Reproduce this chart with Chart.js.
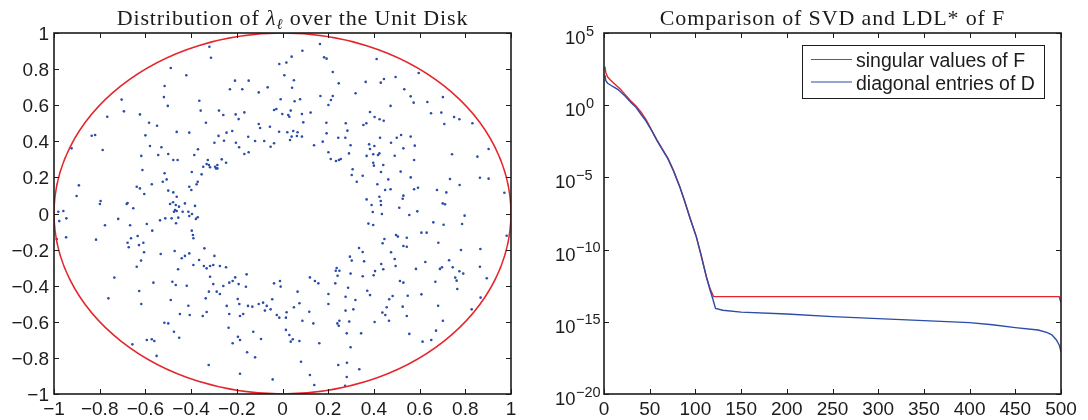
<!DOCTYPE html>
<html>
<head>
<meta charset="utf-8">
<script src="https://cdn.jsdelivr.net/npm/chart.js@4.4.1/dist/chart.umd.min.js"></script>
<style>
  html, body { margin: 0; padding: 0; background: #fff; }
  #wrap { position: relative; width: 1088px; height: 420px; }
  canvas { position: absolute; top: 0; }
  #diskChart { left: 0; }
  #svdChart { left: 544px; }
</style>
</head>
<body>
<div id="wrap">
  <canvas id="diskChart" width="544" height="420"></canvas>
  <canvas id="svdChart" width="544" height="420"></canvas>
</div>
<script>
const lambdaRe = [
  -0.320, -0.313, -0.014, -0.489, -0.421, -0.516, -0.519, -0.502, -0.704, -0.694, -0.767, -0.624, -0.584, -0.549, -0.463, -0.408,
  -0.364, -0.358, -0.335, -0.278, -0.259, -0.230, -0.208, -0.176, -0.148, -0.104, -0.065, -0.205, -0.192, -0.167, -0.104, -0.027,
  -0.055, -0.835, -0.820, -0.600, -0.280, -0.245, -0.220, -0.150,
  0.164, 0.087, 0.182, 0.193, 0.040, 0.017, 0.412, 0.220, 0.008, 0.050, 0.042, 0.246, 0.364, 0.430, 0.444, 0.495,
  0.596, 0.533, 0.561, 0.574, 0.634, 0.702, 0.320, 0.166, 0.220, 0.212, 0.201, 0.077, 0.053, -0.008, -0.037, -0.001,
  0.025, 0.036, 0.085, 0.123, 0.030, 0.091, 0.192, 0.277, 0.284, 0.383, 0.403, 0.425, 0.443, 0.473, 0.650, 0.695,
  0.708, 0.751, 0.774, 0.831, 0.354, 0.367, -0.098, -0.015, 0.021, 0.040, 0.047, 0.066, 0.063, 0.085, 0.193, 0.244,
  0.275, 0.427, 0.500, 0.519, 0.561,
  -0.923, -0.787, -0.580, -0.530, -0.618, -0.544, -0.500, -0.478, -0.459, -0.386, -0.370, -0.613, -0.516, -0.507, -0.524, -0.638,
  -0.624, -0.605, -0.572, -0.891, -0.901, -0.796, -0.799, -0.678, -0.682, -0.653, -0.719, -0.777, -0.816, -0.981, -0.959, -0.977,
  -0.946, -0.988, -0.947, -0.667, -0.663, -0.678, -0.673, -0.634, -0.628, -0.594, -0.570, -0.536, -0.513, -0.500, -0.478, -0.463,
  -0.492, -0.479, -0.467, -0.453, -0.470, -0.475, -0.463, -0.456, -0.466, -0.485, -0.437, -0.427, -0.412, -0.408, -0.396, -0.383,
  -0.379, -0.371, -0.397, -0.392, -0.390, -0.408, -0.399, -0.376, -0.371, -0.354, -0.397, -0.347, -0.332, -0.327, -0.322, -0.317,
  -0.295, -0.291, -0.285, -0.285, -0.266, -0.247, -0.298, -0.256, -0.204, -0.190, -0.167, -0.148, -0.120, -0.080, -0.052, -0.037,
  -0.609, -0.619, -0.638, -0.606, -0.533, -0.472, -0.457, -0.441, -0.427, -0.408, -0.390, -0.365, -0.342, -0.344, -0.332, -0.317,
  -0.298, -0.303, -0.317, -0.274, -0.247, -0.207, -0.157, -0.736,
  0.033, 0.138, 0.176, 0.298, 0.201, 0.211, 0.234, 0.247, 0.255, 0.291, 0.379, 0.402, 0.383, 0.368, 0.397, 0.418,
  0.424, 0.397, 0.400, 0.441, 0.475, 0.529, 0.579, 0.491, 0.576, 0.742, 0.853, 0.902, 0.307, 0.303, 0.351, 0.325,
  0.431, 0.463, 0.415, 0.449, 0.473, 0.517, 0.561, 0.733, 0.775, 0.864, 0.902, 0.971, 0.576, 0.593, 0.676, 0.717,
  0.368, 0.424, 0.430, 0.431, 0.390, 0.529, 0.526, 0.511, 0.701, 0.711, 0.395, 0.435, 0.555, 0.590, 0.797, 0.376,
  0.397, 0.660, 0.705, 0.786, 0.608, 0.631, 0.497, 0.505, 0.544, 0.446, 0.438, 0.529, 0.544, 0.682, 0.335, 0.351,
  0.781, 0.866, 0.981, 0.475, 0.295, 0.303, 0.357, 0.491, 0.625, 0.729, 0.432, 0.495, 0.441, 0.405, 0.399, 0.351,
  0.584, 0.689, 0.698, 0.745, 0.774, 0.791, 0.756, 0.864, 0.894, 0.237, 0.233, 0.249, 0.241, 0.298, 0.120,
  -0.762, -0.627, -0.618, -0.565, -0.482, -0.467, -0.489, -0.419, -0.412, -0.449, -0.406, -0.349, -0.332, -0.303, -0.288, -0.274,
  -0.259, -0.233, -0.218, -0.192, -0.160, -0.322, -0.336, -0.244, -0.233, -0.196, -0.189, -0.186, -0.172, -0.151, -0.132, -0.104,
  -0.085, -0.069, -0.045, -0.052, -0.077, -0.025, -0.517, -0.500, -0.475, -0.452, -0.236, -0.195, -0.186, -0.128, -0.094, -0.218,
  -0.155, -0.120, -0.657, -0.594, -0.572, -0.561, -0.551, -0.323, -0.186, -0.043,
  -0.037, -0.011, -0.008, 0.142, 0.157, 0.231, 0.287, 0.514, 0.529, 0.669, 0.762, 0.765, -0.014, 0.018, 0.015, 0.050,
  0.066, 0.074, 0.117, 0.087, 0.135, 0.201, 0.201, 0.276, 0.319, 0.276, 0.310, 0.240, 0.249, 0.246, 0.292, 0.371,
  0.383, 0.437, 0.450, 0.456, 0.467, 0.482, 0.466, 0.403, 0.526, 0.544, 0.548, 0.608, 0.681, 0.702, 0.672, 0.651,
  0.613, 0.555, 0.344, 0.281, 0.298, 0.161, 0.081, 0.120, 0.139, 0.244, 0.282, 0.281, 0.274, 0.336, 0.015, 0.030,
  0.036, 0.045, 0.074, 0.828, 0.867
];
const lambdaIm = [
  0.924, 0.863, 0.828, 0.806, 0.766, 0.706, 0.645, 0.596, 0.631, 0.566, 0.536, 0.549, 0.503, 0.486, 0.452, 0.448,
  0.625, 0.570, 0.503, 0.570, 0.546, 0.688, 0.736, 0.688, 0.736, 0.671, 0.699, 0.549, 0.523, 0.560, 0.496, 0.579,
  0.481, 0.431, 0.435, 0.433, 0.430, 0.448, 0.457, 0.425,
  0.939, 0.902, 0.865, 0.858, 0.869, 0.836, 0.856, 0.784, 0.766, 0.738, 0.697, 0.721, 0.729, 0.725, 0.745, 0.756,
  0.778, 0.688, 0.649, 0.614, 0.618, 0.645, 0.666, 0.651, 0.651, 0.629, 0.601, 0.633, 0.622, 0.633, 0.573, 0.551,
  0.546, 0.570, 0.551, 0.559, 0.536, 0.505, 0.503, 0.500, 0.459, 0.562, 0.535, 0.522, 0.514, 0.596, 0.555, 0.559,
  0.496, 0.535, 0.522, 0.500, 0.490, 0.500, 0.474, 0.453, 0.450, 0.426, 0.457, 0.450, 0.429, 0.426, 0.444, 0.420,
  0.420, 0.420, 0.420, 0.435, 0.426,
  0.361, 0.352, 0.374, 0.367, 0.319, 0.324, 0.330, 0.296, 0.296, 0.324, 0.356, 0.241, 0.223, 0.189, 0.176, 0.148,
  0.139, 0.108, 0.162, 0.156, 0.097, 0.069, 0.053, 0.058, 0.053, 0.029, -0.030, -0.065, -0.145, 0.010, 0.014, -0.042,
  -0.027, -0.141, -0.132, -0.065, -0.137, -0.162, -0.187, -0.125, -0.175, -0.058, -0.095, -0.038, -0.027, 0.127, 0.117, 0.093,
  0.053, 0.062, 0.047, 0.038, 0.019, 0.010, 0.014, -0.023, -0.054, -0.027, 0.010, 0.056, 0.010, -0.014, -0.003, 0.042,
  -0.030, -0.021, -0.095, -0.119, -0.137, 0.148, 0.130, 0.162, 0.176, 0.217, 0.230, 0.259, 0.274, 0.296, 0.269, 0.256,
  0.259, 0.250, 0.250, 0.269, 0.300, 0.281, 0.392, 0.403, 0.392, 0.367, 0.330, 0.339, 0.402, 0.402, 0.370, 0.389,
  -0.162, -0.261, -0.295, -0.215, -0.224, -0.208, -0.309, -0.248, -0.235, -0.221, -0.285, -0.258, -0.193, -0.291, -0.304, -0.291,
  -0.235, -0.285, -0.350, -0.291, -0.298, -0.354, -0.337, -0.355,
  0.407, 0.378, 0.398, 0.378, 0.339, 0.302, 0.291, 0.296, 0.302, 0.333, 0.383, 0.374, 0.357, 0.319, 0.328, 0.324,
  0.333, 0.281, 0.265, 0.269, 0.392, 0.361, 0.376, 0.320, 0.296, 0.328, 0.315, 0.357, 0.245, 0.213, 0.209, 0.176,
  0.230, 0.189, 0.162, 0.130, 0.134, 0.232, 0.200, 0.191, 0.158, 0.198, 0.193, 0.115, 0.134, 0.143, 0.130, 0.117,
  0.078, 0.093, 0.069, 0.047, 0.047, 0.099, 0.082, 0.032, 0.056, 0.051, 0.008, -0.003, -0.008, 0.012, -0.012, -0.056,
  -0.064, -0.049, -0.062, -0.058, -0.106, -0.106, -0.119, -0.128, -0.134, -0.141, -0.165, -0.180, -0.184, -0.162, -0.191, -0.213,
  -0.202, -0.197, -0.123, -0.215, -0.239, -0.261, -0.265, -0.252, -0.269, -0.259, -0.280, -0.291, -0.309, -0.319, -0.342, -0.348,
  -0.307, -0.307, -0.298, -0.298, -0.320, -0.333, -0.355, -0.295, -0.359, -0.302, -0.317, -0.317, -0.345, -0.333, -0.354,
  -0.470, -0.429, -0.501, -0.383, -0.378, -0.396, -0.479, -0.400, -0.511, -0.557, -0.562, -0.568, -0.546, -0.391, -0.433, -0.446,
  -0.402, -0.383, -0.374, -0.391, -0.406, -0.433, -0.470, -0.512, -0.557, -0.474, -0.501, -0.568, -0.557, -0.512, -0.516, -0.501,
  -0.494, -0.512, -0.475, -0.531, -0.538, -0.562, -0.605, -0.609, -0.655, -0.688, -0.633, -0.683, -0.701, -0.655, -0.695, -0.719,
  -0.769, -0.797, -0.725, -0.701, -0.697, -0.706, -0.789, -0.839, -0.888, -0.919,
  -0.387, -0.374, -0.405, -0.374, -0.387, -0.387, -0.411, -0.374, -0.383, -0.378, -0.372, -0.418, -0.577, -0.547, -0.577, -0.519,
  -0.433, -0.497, -0.544, -0.594, -0.609, -0.446, -0.501, -0.461, -0.479, -0.538, -0.531, -0.609, -0.594, -0.622, -0.599, -0.428,
  -0.452, -0.549, -0.562, -0.519, -0.475, -0.457, -0.594, -0.601, -0.516, -0.568, -0.456, -0.448, -0.511, -0.594, -0.649, -0.701,
  -0.710, -0.667, -0.664, -0.664, -0.741, -0.719, -0.821, -0.895, -0.950, -0.839, -0.827, -0.906, -0.954, -0.863, -0.645, -0.673,
  -0.710, -0.697, -0.706, -0.531, -0.466
];

// right panel: index k and log10 of the value
const svdIdx = [1, 2, 4, 7, 12, 18, 23, 30, 35, 41, 46, 52, 58, 64, 70, 76, 83, 88, 94, 101, 106, 112, 116, 120, 200, 300, 400, 498, 500];
const svdLog = [2.67, 2.25, 1.95, 1.75, 1.45, 1.1, 0.75, 0.25, -0.05, -0.52, -1.0, -1.7, -2.41, -3.05, -3.68, -4.5, -5.64, -6.6, -7.8, -9.1, -10.3, -11.87, -12.7, -13.26, -13.26, -13.26, -13.26, -13.26, -13.67];
const ldlIdx = [1, 2, 4, 7, 10, 15, 23, 30, 35, 41, 46, 52, 58, 64, 70, 76, 83, 88, 94, 101, 106, 112, 116, 119, 122, 130, 150, 200, 250, 300, 350, 400, 425, 450, 475, 485, 490, 495, 498, 500];
const ldlLog = [2.09, 1.7, 1.52, 1.4, 1.28, 1.1, 0.64, 0.15, -0.15, -0.68, -1.1, -1.75, -2.45, -3.1, -3.72, -4.55, -5.68, -6.6, -7.8, -9.12, -10.35, -11.9, -12.8, -13.4, -14.07, -14.2, -14.33, -14.46, -14.64, -14.78, -14.92, -15.06, -15.2, -15.4, -15.57, -15.75, -15.9, -16.26, -16.6, -17.07];
const seriesNames = ['singular values of F', 'diagonal entries of D'];

// tick positions and labels
const diskTicks = [-1, -0.8, -0.6, -0.4, -0.2, 0, 0.2, 0.4, 0.6, 0.8, 1];
const diskTickLabels = ['\u22121', '\u22120.8', '\u22120.6', '\u22120.4', '\u22120.2', '0', '0.2', '0.4', '0.6', '0.8', '1'];
const svdXTicks = [0, 50, 100, 150, 200, 250, 300, 350, 400, 450, 500];
const svdXTickLabels = ['0', '50', '100', '150', '200', '250', '300', '350', '400', '450', '500'];
const svdYExponents = [5, 0, -5, -10, -15, -20];

const SANS = '"Liberation Sans", Arial, Helvetica, sans-serif';
const SERIF = '"Liberation Serif", "Times New Roman", serif';
const RED = '#e5242b';
const BLUE = '#2b4ca8';
const INK = '#1c1c1c';

// draws a MATLAB style box with inward ticks, tick labels, title and legend
function makeAxesPlugin(cfg) {
    return {
        id: 'matlabAxes',
        afterDatasetsDraw(chart) {
            if (!cfg.circle) return;
            const ctx = chart.ctx, a = chart.chartArea;
            const xs = chart.scales.x, ys = chart.scales.y;
            ctx.save();
            ctx.beginPath();
            ctx.rect(a.left, a.top, a.right - a.left, a.bottom - a.top);
            ctx.clip();
            const cx = xs.getPixelForValue(0), cy = ys.getPixelForValue(0);
            ctx.beginPath();
            ctx.ellipse(cx, cy, xs.getPixelForValue(1) - cx, cy - ys.getPixelForValue(1), 0, 0, Math.PI * 2);
            ctx.strokeStyle = RED;
            ctx.lineWidth = 1.6;
            ctx.stroke();
            ctx.restore();
        },
        afterDraw(chart) {
            const ctx = chart.ctx, a = chart.chartArea;
            const xs = chart.scales.x, ys = chart.scales.y;
            ctx.save();

            // legend box
            if (cfg.legend) {
                const bw = 242, bh = 53;
                const bx = a.right - 17 - bw, by = a.top + 12;
                ctx.fillStyle = '#fff';
                ctx.fillRect(bx, by, bw, bh);
                ctx.strokeStyle = INK;
                ctx.lineWidth = 1;
                ctx.strokeRect(bx + 0.5, by + 0.5, bw, bh);
                ctx.font = '19.5px ' + SANS;
                ctx.textAlign = 'left';
                ctx.textBaseline = 'alphabetic';
                chart.data.datasets.forEach((ds, i) => {
                    const ly = by + 14.5 + i * 22.5;
                    ctx.strokeStyle = ds.borderColor;
                    ctx.lineWidth = 1.2;
                    ctx.beginPath();
                    ctx.moveTo(bx + 9, ly);
                    ctx.lineTo(bx + 50, ly);
                    ctx.stroke();
                    ctx.fillStyle = INK;
                    ctx.fillText(ds.label, bx + 54, ly + 7.5);
                });
            }

            // inward ticks on all four sides
            ctx.strokeStyle = INK;
            ctx.lineWidth = 1;
            const tl = 5;
            ctx.beginPath();
            cfg.xTicks.forEach(v => {
                const px = Math.round(xs.getPixelForValue(v)) + 0.5;
                ctx.moveTo(px, a.bottom); ctx.lineTo(px, a.bottom - tl);
                ctx.moveTo(px, a.top); ctx.lineTo(px, a.top + tl);
            });
            cfg.yTicks.forEach(v => {
                const py = Math.round(ys.getPixelForValue(v)) + 0.5;
                ctx.moveTo(a.left, py); ctx.lineTo(a.left + tl, py);
                ctx.moveTo(a.right, py); ctx.lineTo(a.right - tl, py);
            });
            ctx.stroke();

            // box
            ctx.lineWidth = 1.6;
            ctx.strokeRect(a.left, a.top, a.right - a.left, a.bottom - a.top);

            // tick labels
            ctx.fillStyle = INK;
            ctx.font = '19px ' + SANS;
            ctx.textBaseline = 'alphabetic';
            ctx.textAlign = 'center';
            cfg.xTicks.forEach((v, i) => {
                ctx.fillText(cfg.xLabels[i], xs.getPixelForValue(v), a.bottom + 21);
            });
            cfg.yTicks.forEach((v, i) => {
                const py = ys.getPixelForValue(v);
                if (cfg.yExponents) {
                    const ex = cfg.yExponents[i];
                    const e = String(ex).replace('-', '\u2212');
                    ctx.textAlign = 'left';
                    const left = a.left - (ex < 0 ? 49 : 39);
                    ctx.font = '18.5px ' + SANS;
                    const bw = ctx.measureText('10').width;
                    ctx.fillText('10', left, py + 11);
                    ctx.font = '14.5px ' + SANS;
                    ctx.fillText(e, left + bw + 0.5, py + 2.5);
                } else {
                    ctx.textAlign = 'right';
                    ctx.fillText(cfg.yLabels[i], a.left - 5, py + 7);
                }
            });

            // title, built from runs so subscripts can be shifted
            const runs = cfg.title;
            ctx.letterSpacing = '0.85px';
            let total = 0;
            runs.forEach(r => { ctx.font = r.font; r.w = ctx.measureText(r.text).width; total += r.w; });
            let tx = (a.left + a.right) / 2 - total / 2 + (cfg.titleShift || 0);
            ctx.textAlign = 'left';
            runs.forEach(r => {
                ctx.font = r.font;
                ctx.fillText(r.text, tx, 25 + (r.dy || 0));
                tx += r.w;
            });
            ctx.letterSpacing = '0px';
            ctx.restore();
        }
    };
}

function buildDisk() {
    const points = lambdaRe.map((re, i) => ({ x: re, y: lambdaIm[i] }));
    new Chart(document.getElementById('diskChart'), {
        type: 'scatter',
        data: {
            datasets: [{
                data: points,
                pointRadius: 1.3,
                pointBorderWidth: 0,
                pointBackgroundColor: BLUE,
                pointBorderColor: BLUE
            }]
        },
        options: {
            responsive: false,
            animation: false,
            devicePixelRatio: 1,
            layout: { padding: { left: 54, right: 33, top: 33, bottom: 26 } },
            scales: {
                x: { type: 'linear', min: -1, max: 1, display: false },
                y: { type: 'linear', min: -1, max: 1, display: false }
            },
            plugins: { legend: { display: false }, tooltip: { enabled: false } }
        },
        plugins: [makeAxesPlugin({
            circle: true,
            titleShift: 10,
            xTicks: diskTicks, xLabels: diskTickLabels,
            yTicks: diskTicks, yLabels: diskTickLabels,
            title: [
                { text: 'Distribution of ', font: '22px ' + SERIF },
                { text: '\u03bb', font: 'italic 22px ' + SERIF },
                { text: '\u2113', font: 'italic 15px ' + SERIF, dy: 4 },
                { text: ' over the Unit Disk', font: '22px ' + SERIF }
            ]
        })]
    });
}

function buildSvd() {
    const svdPts = svdIdx.map((k, i) => ({ x: k, y: Math.pow(10, svdLog[i]) }));
    const ldlPts = ldlIdx.map((k, i) => ({ x: k, y: Math.pow(10, ldlLog[i]) }));
    new Chart(document.getElementById('svdChart'), {
        type: 'line',
        data: {
            datasets: [{
                label: seriesNames[0],
                data: svdPts,
                borderColor: RED,
                borderWidth: 1.4,
                pointRadius: 0,
                tension: 0,
                order: 2
            }, {
                label: seriesNames[1],
                data: ldlPts,
                borderColor: BLUE,
                borderWidth: 1.4,
                pointRadius: 0,
                tension: 0,
                order: 1
            }]
        },
        options: {
            responsive: false,
            animation: false,
            devicePixelRatio: 1,
            layout: { padding: { left: 60, right: 27, top: 33, bottom: 26 } },
            scales: {
                x: { type: 'linear', min: 0, max: 500, display: false },
                y: { type: 'logarithmic', min: 1e-20, max: 1e5, display: false }
            },
            plugins: { legend: { display: false }, tooltip: { enabled: false } }
        },
        plugins: [makeAxesPlugin({
            legend: true,
            xTicks: svdXTicks, xLabels: svdXTickLabels,
            yTicks: svdYExponents.map(e => Math.pow(10, e)), yExponents: svdYExponents,
            title: [
                { text: 'Comparison of SVD and LDL', font: '22px ' + SERIF },
                { text: '*', font: '22px ' + SERIF },
                { text: ' of F', font: '22px ' + SERIF }
            ]
        })]
    });
}

document.addEventListener('DOMContentLoaded', function () {
    buildDisk();
    buildSvd();
});
</script>
</body>
</html>
